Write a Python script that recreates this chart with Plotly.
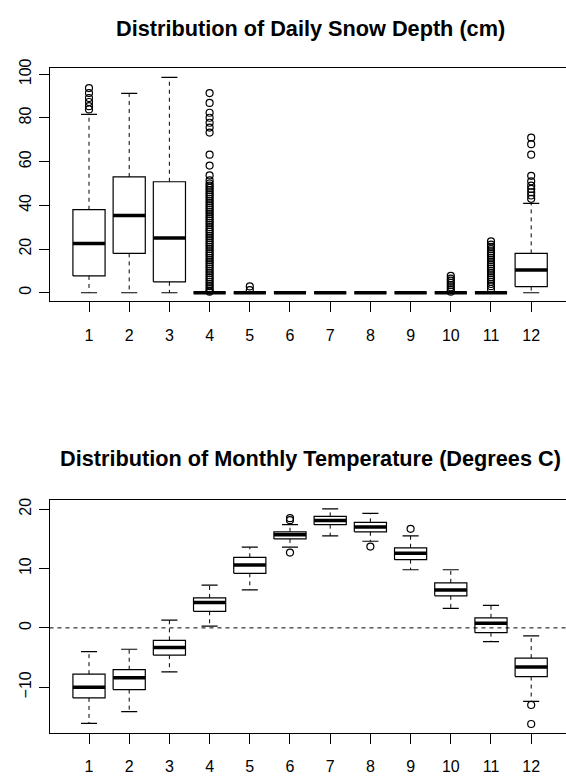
import plotly.graph_objects as go

# ---------------- data ----------------
months = [1, 2, 3, 4, 5, 6, 7, 8, 9, 10, 11, 12]
month_labels = ["1", "2", "3", "4", "5", "6", "7", "8", "9", "10", "11", "12"]

# Daily snow depth (cm) box statistics
snow_lower = [0, 0, 0, 0, 0, 0, 0, 0, 0, 0, 0, 0]
snow_q1 = [7.7, 18.0, 5.0, 0, 0, 0, 0, 0, 0, 0, 0, 2.8]
snow_median = [22.5, 35.4, 25.0, 0, 0, 0, 0, 0, 0, 0, 0, 10.4]
snow_q3 = [38.0, 53.0, 50.8, 0, 0, 0, 0, 0, 0, 0, 0, 18.0]
snow_upper = [81.6, 91.3, 98.6, 0, 0, 0, 0, 0, 0, 0, 0, 40.9]

snow_out_m1 = [83.9, 85.4, 87.3, 89.1, 91.4, 93.7]
snow_out_m4 = [0.5, 1, 2, 3, 4, 5, 6, 7, 8, 9, 10, 11, 12, 13, 14, 15, 16, 17, 18,
               19, 20, 21, 22, 23, 24, 25, 26, 27, 28, 29, 30, 31, 32, 33, 34, 35,
               36, 37, 38, 39, 40, 41, 42, 43, 44, 45, 46, 47, 48, 49, 50, 51.4,
               53.7, 58.2, 63.2, 73.3, 75.6, 77.8, 80.1, 82.4, 86.9, 91.4]
snow_out_m5 = [1.2, 2.9]
snow_out_m10 = [0.5, 1.5, 2.5, 3.5, 4.5, 5.5, 6.5, 7.7]
snow_out_m11 = [1.7, 3, 4, 5, 6, 7, 8, 9, 10, 11, 12, 13, 14, 15, 16, 17, 18,
                19, 20, 21, 22, 23.5]
snow_out_m12 = [43.0, 44.5, 46.0, 47.5, 49.0, 51.0, 53.5, 63.2, 68.0, 71.0]

# Monthly temperature (degrees C) box statistics
temp_lower = [-16.1, -14.1, -7.4, 0.3, 6.4, 13.6, 15.5, 14.6, 9.8, 3.3, -2.3, -12.4]
temp_q1 = [-11.8, -10.4, -4.6, 2.8, 9.2, 15.0, 17.4, 16.2, 11.5, 5.4, -0.8, -8.2]
temp_median = [-10.0, -8.4, -3.3, 4.3, 10.6, 15.7, 18.1, 17.0, 12.6, 6.4, 0.8, -6.6]
temp_q3 = [-7.8, -7.05, -2.1, 5.05, 11.9, 16.2, 18.8, 17.8, 13.5, 7.6, 1.7, -5.1]
temp_upper = [-4.0, -3.6, 1.3, 7.2, 13.6, 17.4, 20.05, 19.3, 15.5, 9.8, 3.8, -1.35]

temp_out_m6 = [18.15, 18.5, 12.7]
temp_out_m8 = [13.7]
temp_out_m9 = [16.7]
temp_out_m12 = [-13.0, -16.2]

snow_title = "Distribution of Daily Snow Depth (cm)"
temp_title = "Distribution of Monthly Temperature (Degrees C)"

# ---------------- layout constants ----------------
W, H = 566, 781
BOX_HALF = 0.4
STAPLE_HALF = 0.2
FONT = "Liberation Sans, Arial, Helvetica, sans-serif"
DASH = "4px,4px"


def box_traces(xs, lo, q1, med, q3, hi, outliers, xa, ya):
    bx, by, mx, my, wx, wy, sx, sy = [], [], [], [], [], [], [], []
    for x, a, b, m, c, d in zip(xs, lo, q1, med, q3, hi):
        bx += [x - BOX_HALF, x + BOX_HALF, x + BOX_HALF, x - BOX_HALF, x - BOX_HALF, None]
        by += [b, b, c, c, b, None]
        mx += [x - BOX_HALF, x + BOX_HALF, None]
        my += [m, m, None]
        wx += [x, x, None, x, x, None]
        wy += [c, d, None, b, a, None]
        sx += [x - STAPLE_HALF, x + STAPLE_HALF, None, x - STAPLE_HALF, x + STAPLE_HALF, None]
        sy += [d, d, None, a, a, None]
    ox, oy = [], []
    for x, vals in outliers:
        ox += [x] * len(vals)
        oy += vals
    common = dict(xaxis=xa, yaxis=ya, hoverinfo="skip", showlegend=False)
    return [
        go.Scatter(x=wx, y=wy, mode="lines", line=dict(color="black", width=1, dash=DASH), **common),
        go.Scatter(x=sx, y=sy, mode="lines", line=dict(color="black", width=1.2), **common),
        go.Scatter(x=bx, y=by, mode="lines", line=dict(color="black", width=1.2), **common),
        go.Scatter(x=mx, y=my, mode="lines", line=dict(color="black", width=3.5), **common),
        go.Scatter(x=ox, y=oy, mode="markers",
                   marker=dict(symbol="circle-open", size=7, color="black", line=dict(width=1.2)),
                   **common),
    ]


fig = go.Figure()
for t in box_traces(months, snow_lower, snow_q1, snow_median, snow_q3, snow_upper,
                    [(1, snow_out_m1), (4, snow_out_m4), (5, snow_out_m5),
                     (10, snow_out_m10), (11, snow_out_m11), (12, snow_out_m12)],
                    "x", "y"):
    fig.add_trace(t)
for t in box_traces(months, temp_lower, temp_q1, temp_median, temp_q3, temp_upper,
                    [(6, temp_out_m6), (8, temp_out_m8), (9, temp_out_m9), (12, temp_out_m12)],
                    "x2", "y2"):
    fig.add_trace(t)

x_left_px = 49.5
x_range = [0.0174, 12.866]
xdom = [x_left_px / W, 1.0]


def ydom(top_px, bot_px):
    return [1 - bot_px / H, 1 - top_px / H]


xcommon = dict(range=x_range, domain=xdom, tickmode="array", tickvals=months, ticktext=month_labels,
               showline=True, mirror=True, linecolor="black", linewidth=1,
               ticks="outside", ticklen=10, tickcolor="black", tickwidth=1,
               showgrid=False, zeroline=False, fixedrange=True,
               tickfont=dict(family=FONT, size=16, color="black"), ticklabelstandoff=9)
ycommon = dict(showline=True, linecolor="black", linewidth=1,
               ticks="outside", ticklen=10, tickcolor="black", tickwidth=1,
               showgrid=False, zeroline=False, tickangle=-90, fixedrange=True,
               tickfont=dict(family=FONT, size=16, color="black"), ticklabelstandoff=1)

fig.update_layout(
    width=W, height=H,
    margin=dict(l=0, r=0, t=0, b=0),
    paper_bgcolor="white", plot_bgcolor="white",
    showlegend=False,
    xaxis=dict(anchor="y", **xcommon),
    yaxis=dict(anchor="x", domain=ydom(59.5, 295.8), range=[-3.96, 102.96],
               tickvals=[0, 20, 40, 60, 80, 100], **ycommon),
    xaxis2=dict(anchor="y2", **xcommon),
    yaxis2=dict(anchor="x2", domain=ydom(496.7, 732.7), range=[-17.76, 21.56],
                tickvals=[-10, 0, 10, 20], **ycommon),
    shapes=[dict(type="line", xref="x2 domain", yref="y2", x0=0, x1=1, y0=0, y1=0,
                 line=dict(color="black", width=1, dash=DASH))],
    annotations=[
        dict(text="<b>%s</b>" % snow_title, xref="paper", yref="paper",
             x=310 / W, y=1 - 19.5 / H, xanchor="center", yanchor="middle", showarrow=False,
             font=dict(family=FONT, size=21.7, color="black")),
        dict(text="<b>%s</b>" % temp_title, xref="paper", yref="paper",
             x=310 / W, y=1 - 455 / H, xanchor="center", yanchor="middle", showarrow=False,
             font=dict(family=FONT, size=21.7, color="black")),
    ],
)

fig.write_html("out.html")
